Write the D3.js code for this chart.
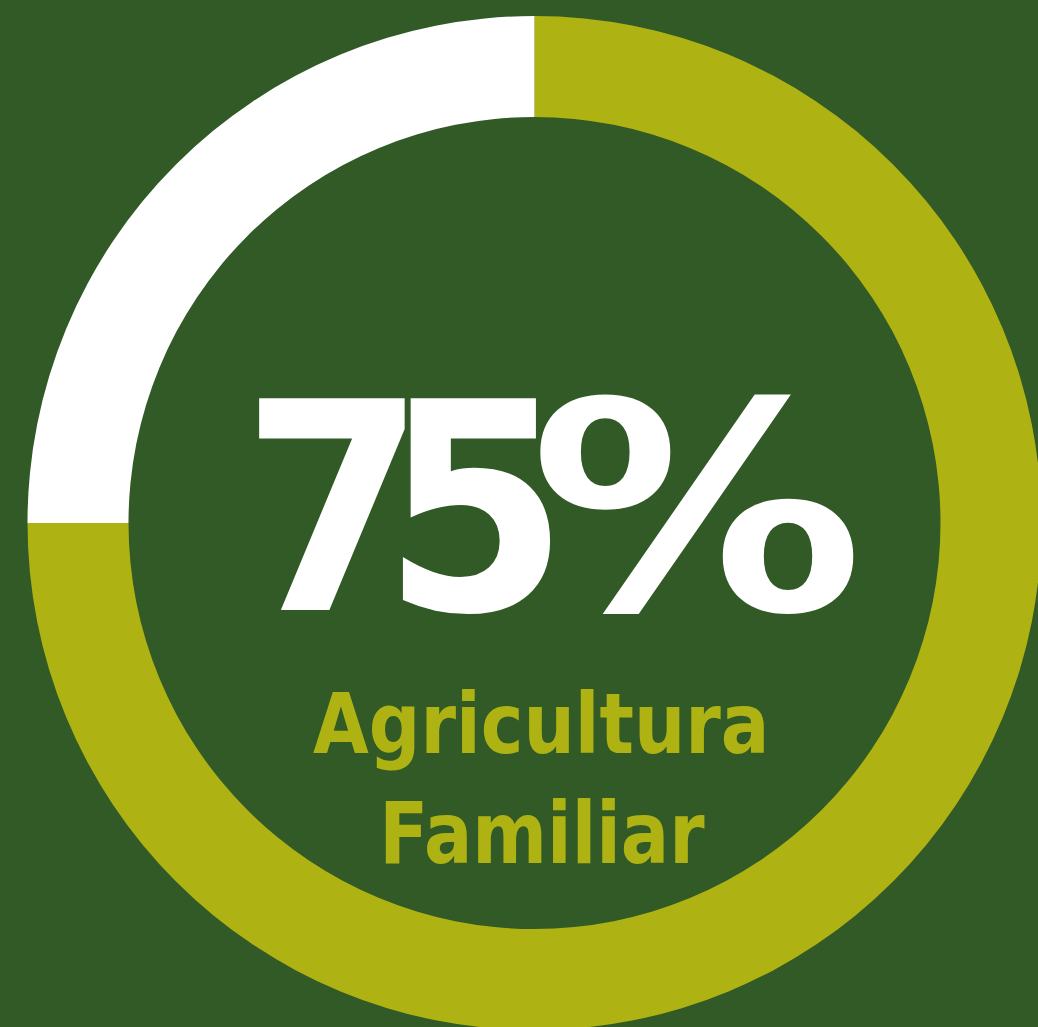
<!DOCTYPE html>
<html><head><meta charset="utf-8">
<script src="https://cdn.jsdelivr.net/npm/d3@7"></script>
<style>html,body{margin:0;padding:0;background:#325a26;overflow:hidden}</style>
</head><body>
<svg id="c" width="1038" height="1027"></svg>
<script>
const categories = ["Agricultura Familiar", "Outros"];
const values = [75, 25];
const colors = ["#aeb313", "#ffffff"];
const bigLabel = "75%";
const labelLines = ["Agricultura", "Familiar"];

const svg = d3.select("#c");
svg.append("rect").attr("width", 1038).attr("height", 1027).attr("fill", "#325a26");

const cx = 534.5, cy = 523, rOuter = 507, rInner = 406;
const g = svg.append("g").attr("transform", `translate(${cx},${cy})`);
const pie = d3.pie().sort(null).value(d => d).startAngle(0).endAngle(2 * Math.PI);
const arc = d3.arc().innerRadius(rInner).outerRadius(rOuter);
g.selectAll("path").data(pie(values)).join("path")
  .attr("d", arc).attr("fill", (d, i) => colors[i]);

const font = "'DejaVu Sans', Verdana, sans-serif";
const ctx = document.createElement("canvas").getContext("2d");

// Big label: one text element, glyphs stretched individually via textLength
const glyphBoxes = [
  {x0: 258, x1: 407},
  {x0: 399, x1: 554},
  {x0: 540, x1: 858}
];
const bigTop = 398, bigBase = 610;
ctx.font = `bold 100px ${font}`;
const cap100 = ctx.measureText("7").actualBoundingBoxAscent;
const bigFs = 100 * (bigBase - bigTop) / cap100;
ctx.font = `bold ${bigFs}px ${font}`;
const big = svg.append("text")
  .attr("font-family", font).attr("font-weight", "bold")
  .attr("font-size", bigFs).attr("fill", "#ffffff");
bigLabel.split("").forEach((ch, i) => {
  const bx = glyphBoxes[i];
  const m = ctx.measureText(ch);
  const ink = m.actualBoundingBoxLeft + m.actualBoundingBoxRight;
  const sx = (bx.x1 - bx.x0) / ink;
  big.append("tspan").text(ch)
    .attr("x", bx.x0 + m.actualBoundingBoxLeft * sx)
    .attr("y", bigBase)
    .attr("textLength", m.width * sx)
    .attr("lengthAdjust", "spacingAndGlyphs");
});

// Sub label lines
const lineBoxes = [
  {x0: 313, x1: 764, top: 692, base: 753},
  {x0: 385, x1: 705, top: 800, base: 863}
];
labelLines.forEach((s, i) => {
  const bx = lineBoxes[i];
  ctx.font = `bold 100px ${font}`;
  const cap = ctx.measureText("F").actualBoundingBoxAscent;
  const fs = 100 * (bx.base - bx.top) / cap;
  ctx.font = `bold ${fs}px ${font}`;
  const m = ctx.measureText(s);
  const inkW = m.actualBoundingBoxLeft + m.actualBoundingBoxRight;
  const sx = (bx.x1 - bx.x0) / inkW;
  svg.append("text").text(s)
    .attr("font-family", font).attr("font-weight", "bold")
    .attr("font-size", fs).attr("fill", colors[0])
    .attr("x", bx.x0 + m.actualBoundingBoxLeft * sx).attr("y", bx.base)
    .attr("textLength", m.width * sx)
    .attr("lengthAdjust", "spacingAndGlyphs");
});
</script>
</body></html>
